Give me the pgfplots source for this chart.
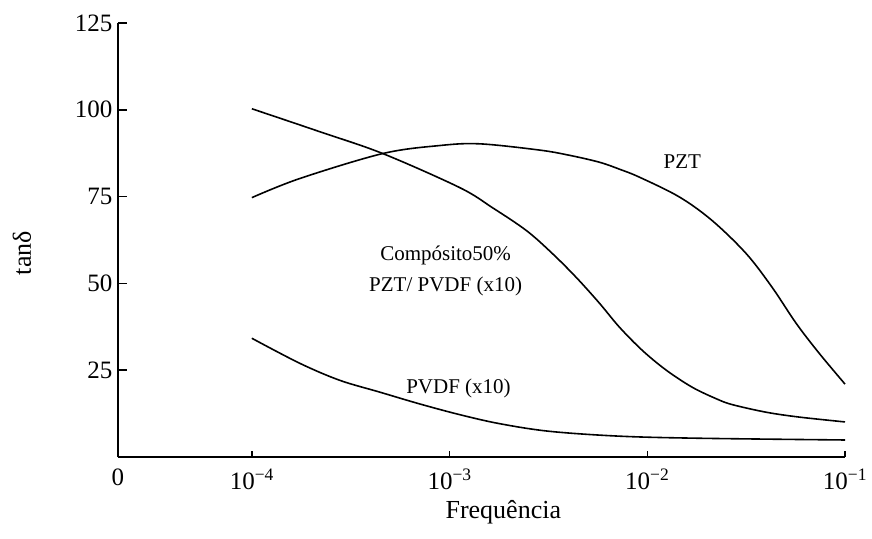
\documentclass[border=0pt]{standalone}
\usepackage{fontspec}
\setmainfont{Liberation Serif}
\usepackage{pgfplots}
\pgfplotsset{compat=1.18}
\begin{document}
\begin{tikzpicture}
\begin{axis}[name=ax,
  scale only axis, width=727pt, height=434pt,
  xmin=-4.677, xmax=-1, ymin=0, ymax=125,
  axis x line=bottom, axis y line=left,
  axis line style={-, line width=2pt, black},
  xtick={-4.677,-4,-3,-2,-1},
  xticklabels={0,10\textsuperscript{−4},10\textsuperscript{−3},10\textsuperscript{−2},10\textsuperscript{−1}},
  ytick={25,50,75,100,125}, yticklabels={25,50,75,100,125},
  tick align=inside,
  xtick style={/pgfplots/major tick length=6pt, line width=1.5pt, black},
  ytick style={/pgfplots/major tick length=9pt, line width=1.5pt, black},
  ticklabel style={font=\fontsize{25}{30}\selectfont},
  xticklabel style={anchor=north, yshift=-8pt},
  yticklabel style={anchor=east, xshift=-2pt},
  xlabel={Frequência}, ylabel={tanδ},
  label style={font=\fontsize{26}{31}\selectfont},
  xlabel style={at={(axis description cs:0.53,-0.127)}, anchor=center},
  ylabel style={at={(axis description cs:-0.132,0.47)}, anchor=center},
  clip=false,
]
% PZT
\addplot[black, line width=1.6pt, smooth, tension=0.55] coordinates {
(-4,74.7) (-3.758,80.2) (-3.338,87.4) (-3.051,89.7) (-2.848,90.2) (-2.545,88.4)
(-2.394,86.9) (-2.242,84.9) (-2.141,82.9) (-2.040,80.6) (-1.838,74.9) (-1.672,68.1)
(-1.5,58.6) (-1.369,48.9) (-1.247,38.5) (-1.131,29.9) (-1.0,21.0)
};
% Composito
\addplot[black, line width=1.6pt, smooth, tension=0.55] coordinates {
(-4,100.3) (-3.657,93.7) (-3.338,87.4) (-2.949,77.6) (-2.783,71.8) (-2.611,65.2)
(-2.480,58.6) (-2.359,51.7) (-2.242,44.3) (-2.141,37.4) (-2.025,30.7) (-1.904,25.0)
(-1.773,20.1) (-1.652,16.8) (-1.571,15.1) (-1.399,12.9) (-1.232,11.5) (-1.0,10.1)
};
% PVDF
\addplot[black, line width=1.6pt, smooth, tension=0.55] coordinates {
(-4,34.2) (-3.758,27.0) (-3.556,22.1) (-3.354,18.7) (-3.152,15.3) (-2.949,12.2)
(-2.747,9.6) (-2.495,7.4) (-2.141,6.0) (-1.737,5.4) (-1.0,4.9)
};
\node[font=\fontsize{21}{25}\selectfont] at (axis cs:-1.823,85.1) {PZT};
\node[font=\fontsize{21}{31}\selectfont, align=center] at (axis cs:-3.02,53.6) {Compósito50\%\\PZT/ PVDF (x10)};
\node[font=\fontsize{21}{25}\selectfont] at (axis cs:-2.955,19.8) {PVDF (x10)};
\end{axis}
\path ([xshift=-118pt,yshift=-81pt]ax.south west) rectangle ++(872pt,538pt);
\end{tikzpicture}
\end{document}
